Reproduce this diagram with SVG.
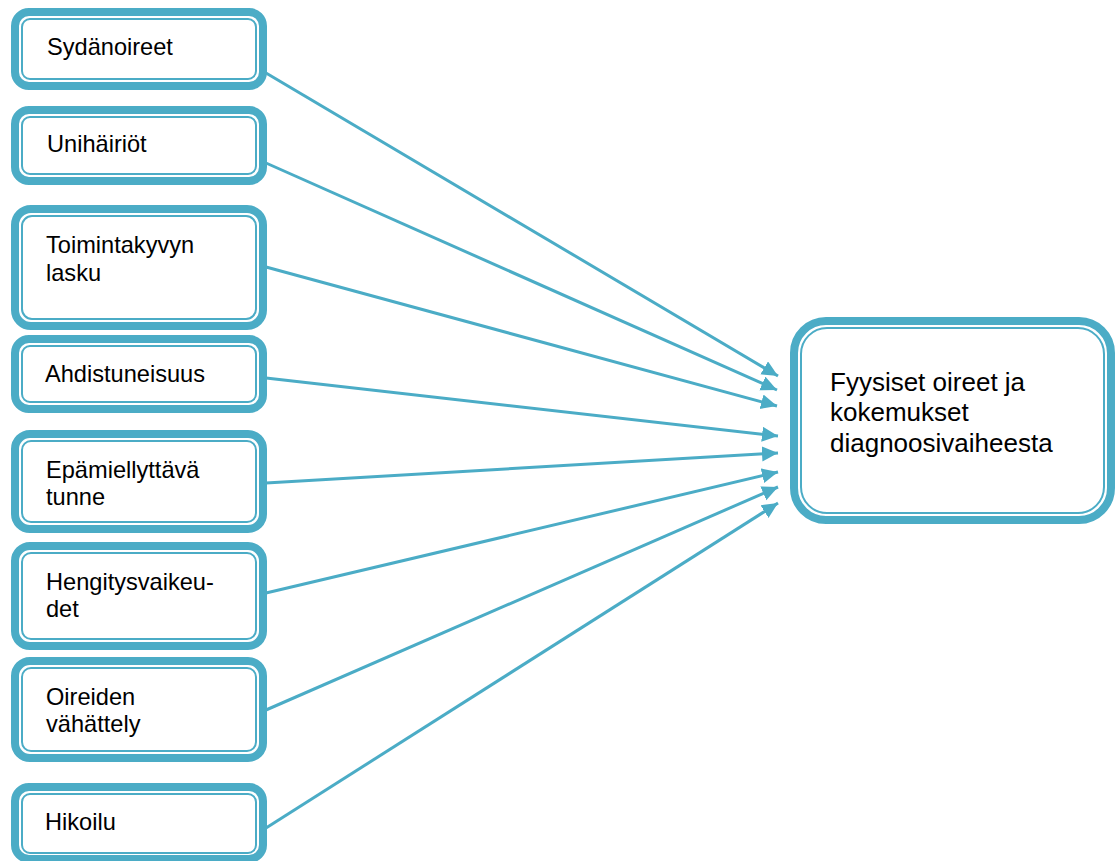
<svg xmlns="http://www.w3.org/2000/svg" width="1116" height="861" viewBox="0 0 1116 861">
<style>
.o{fill:#fff;stroke:#4BACC6;stroke-width:8}
.i{fill:none;stroke:#4BACC6;stroke-width:2}
.t{font-family:"Liberation Sans",Arial,sans-serif;font-size:23.6px;fill:#000}
.tb{font-family:"Liberation Sans",Arial,sans-serif;font-size:26px;fill:#000}
.c{stroke:#4BACC6;stroke-width:3;fill:none}
</style>
<defs>
<marker id="ah" markerUnits="userSpaceOnUse" markerWidth="18" markerHeight="16" refX="16" refY="7.5" orient="auto">
<path d="M0,0 L16,7.5 L0,15 z" fill="#4BACC6"/>
</marker>
</defs>
<rect width="1116" height="861" fill="#fff"/>
<g id="connectors">
<line class="c" x1="266" y1="73" x2="778" y2="376" marker-end="url(#ah)"/>
<line class="c" x1="266" y1="163" x2="777" y2="390" marker-end="url(#ah)"/>
<line class="c" x1="266" y1="267" x2="777" y2="406" marker-end="url(#ah)"/>
<line class="c" x1="266" y1="378" x2="778" y2="436" marker-end="url(#ah)"/>
<line class="c" x1="266" y1="483" x2="778" y2="453" marker-end="url(#ah)"/>
<line class="c" x1="266" y1="593" x2="778" y2="472" marker-end="url(#ah)"/>
<line class="c" x1="266" y1="710" x2="778" y2="487" marker-end="url(#ah)"/>
<line class="c" x1="266" y1="828" x2="778" y2="503" marker-end="url(#ah)"/>
</g>
<g id="n1">
<rect class="o" x="15" y="12" width="248" height="74" rx="14"/>
<rect class="i" x="22" y="19" width="234" height="60" rx="8"/>
<text class="t" x="47" y="55">Sydänoireet</text>
</g>
<g id="n2">
<rect class="o" x="15" y="110" width="248" height="71" rx="14"/>
<rect class="i" x="22" y="117" width="234" height="57" rx="8"/>
<text class="t" x="47" y="152">Unihäiriöt</text>
</g>
<g id="n3">
<rect class="o" x="15" y="209" width="248" height="117" rx="16"/>
<rect class="i" x="22" y="216" width="234" height="103" rx="10"/>
<text class="t" x="46" y="253">Toimintakyvyn</text>
<text class="t" x="46" y="281">lasku</text>
</g>
<g id="n4">
<rect class="o" x="15" y="339" width="248" height="70" rx="14"/>
<rect class="i" x="22" y="346" width="234" height="56" rx="8"/>
<text class="t" x="45" y="382">Ahdistuneisuus</text>
</g>
<g id="n5">
<rect class="o" x="15" y="434" width="248" height="95" rx="15"/>
<rect class="i" x="22" y="441" width="234" height="81" rx="9"/>
<text class="t" x="46" y="478">Epämiellyttävä</text>
<text class="t" x="46" y="505">tunne</text>
</g>
<g id="n6">
<rect class="o" x="15" y="546" width="248" height="100" rx="15"/>
<rect class="i" x="22" y="553" width="234" height="86" rx="9"/>
<text class="t" x="46" y="590">Hengitysvaikeu-</text>
<text class="t" x="46" y="617">det</text>
</g>
<g id="n7">
<rect class="o" x="15" y="661" width="248" height="97" rx="15"/>
<rect class="i" x="22" y="668" width="234" height="83" rx="9"/>
<text class="t" x="46" y="705">Oireiden</text>
<text class="t" x="46" y="732">vähättely</text>
</g>
<g id="n8">
<rect class="o" x="15" y="787" width="248" height="72" rx="14"/>
<rect class="i" x="22" y="794" width="234" height="59" rx="8"/>
<text class="t" x="45" y="830">Hikoilu</text>
</g>
<g id="target">
<rect class="o" x="794" y="321" width="317" height="199" rx="32"/>
<rect class="i" x="801" y="328" width="303" height="185" rx="26"/>
<text class="tb" x="830" y="391">Fyysiset oireet ja</text>
<text class="tb" x="830" y="421">kokemukset</text>
<text class="tb" x="830" y="452">diagnoosivaiheesta</text>
</g>
</svg>
